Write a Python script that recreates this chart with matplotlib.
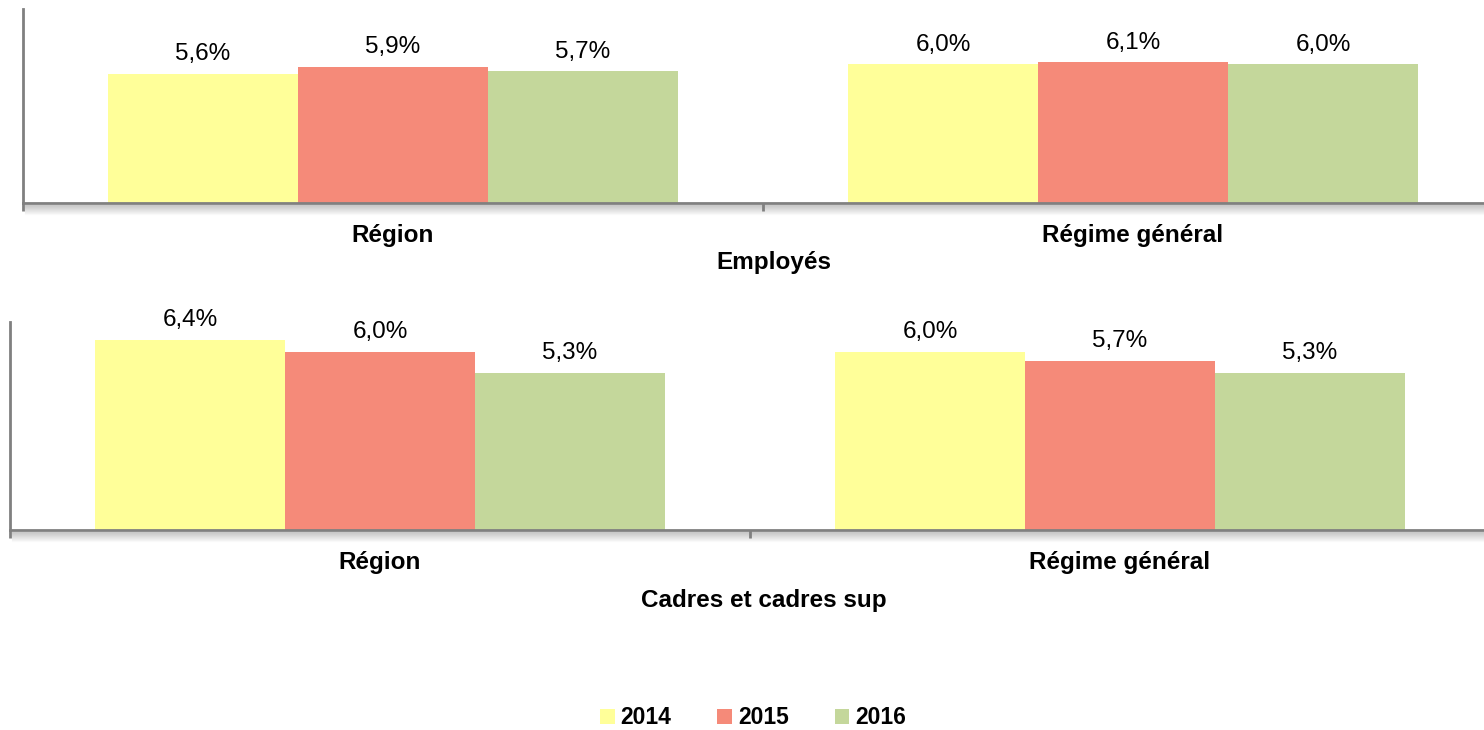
import matplotlib.pyplot as plt
from matplotlib.patches import Patch
from matplotlib.lines import Line2D

plt.rcParams['font.family'] = ['Liberation Sans', 'DejaVu Sans']

categories = ['Région', 'Régime général']
years = ['2014', '2015', '2016']
couleurs = ['#FFFF99', '#F58A79', '#C4D79B']

employes = [[5.6, 6.0], [5.9, 6.1], [5.7, 6.0]]
cadres = [[6.4, 6.0], [6.0, 5.7], [5.3, 5.3]]

W, H = 1484, 730
fig = plt.figure(figsize=(W / 100, H / 100), dpi=100)


def panneau(gauche, haut, bas, valeurs, ymax):
    ax = fig.add_axes([gauche / W, 1 - bas / H, 1480 / W, (bas - haut) / H])
    largeur = 190 / 740
    for i, serie in enumerate(valeurs):
        xs = [k + (i - 1) * largeur for k in range(len(categories))]
        barres = ax.bar(xs, serie, width=largeur, color=couleurs[i], zorder=2)
        for b, v in zip(barres, serie):
            ax.annotate(f'{v:.1f}%'.replace('.', ','),
                        (b.get_x() + b.get_width() / 2, v),
                        xytext=(0, 6), textcoords='offset points',
                        ha='center', va='bottom', fontsize=17.5)
    ax.set_xlim(-0.5, 1.5)
    ax.set_ylim(0, ymax)
    ax.set_yticks([])
    ax.set_xticks([-0.5, 0.5, 1.5])
    ax.set_xticklabels([])
    ax.tick_params(axis='x', which='major', direction='out', length=6,
                   width=2, color='#808080')
    ax.set_xticks([0, 1], minor=True)
    ax.set_xticklabels(categories, minor=True, fontsize=17.5,
                       fontweight='bold')
    ax.tick_params(axis='x', which='minor', length=0, pad=15)
    for s in ['top', 'right']:
        ax.spines[s].set_visible(False)
    for s in ['left', 'bottom']:
        ax.spines[s].set_color('#808080')
        ax.spines[s].set_linewidth(2)
    # ombre sous l'axe
    for j in range(1, 11):
        y = 1 - (bas + 1 + j) / H
        fig.add_artist(Line2D([(gauche + 2) / W, 1], [y, y], color='#808080',
                              alpha=0.45 * (1 - j / 11), lw=0.8,
                              transform=fig.transFigure, zorder=0))
    return ax


panneau(23, 9, 203, employes, 8.4)
panneau(10, 322, 530, cadres, 7.0)

fig.text(774 / W, 1 - 263 / H, 'Employés', ha='center', va='center',
         fontsize=17.5, fontweight='bold')
fig.text(764 / W, 1 - 601 / H, 'Cadres et cadres sup', ha='center',
         va='center', fontsize=17.5, fontweight='bold')

poignees = [Patch(facecolor=c, edgecolor='none') for c in couleurs]
leg = fig.legend(poignees, years, loc='center', ncol=3,
                 bbox_to_anchor=(753 / W, 1 - 718 / H), frameon=False,
                 prop={'weight': 'bold', 'size': 16.5},
                 handlelength=0.65, handleheight=0.65, handletextpad=0.25,
                 columnspacing=2.0)

fig.savefig('out.png', dpi=100)
